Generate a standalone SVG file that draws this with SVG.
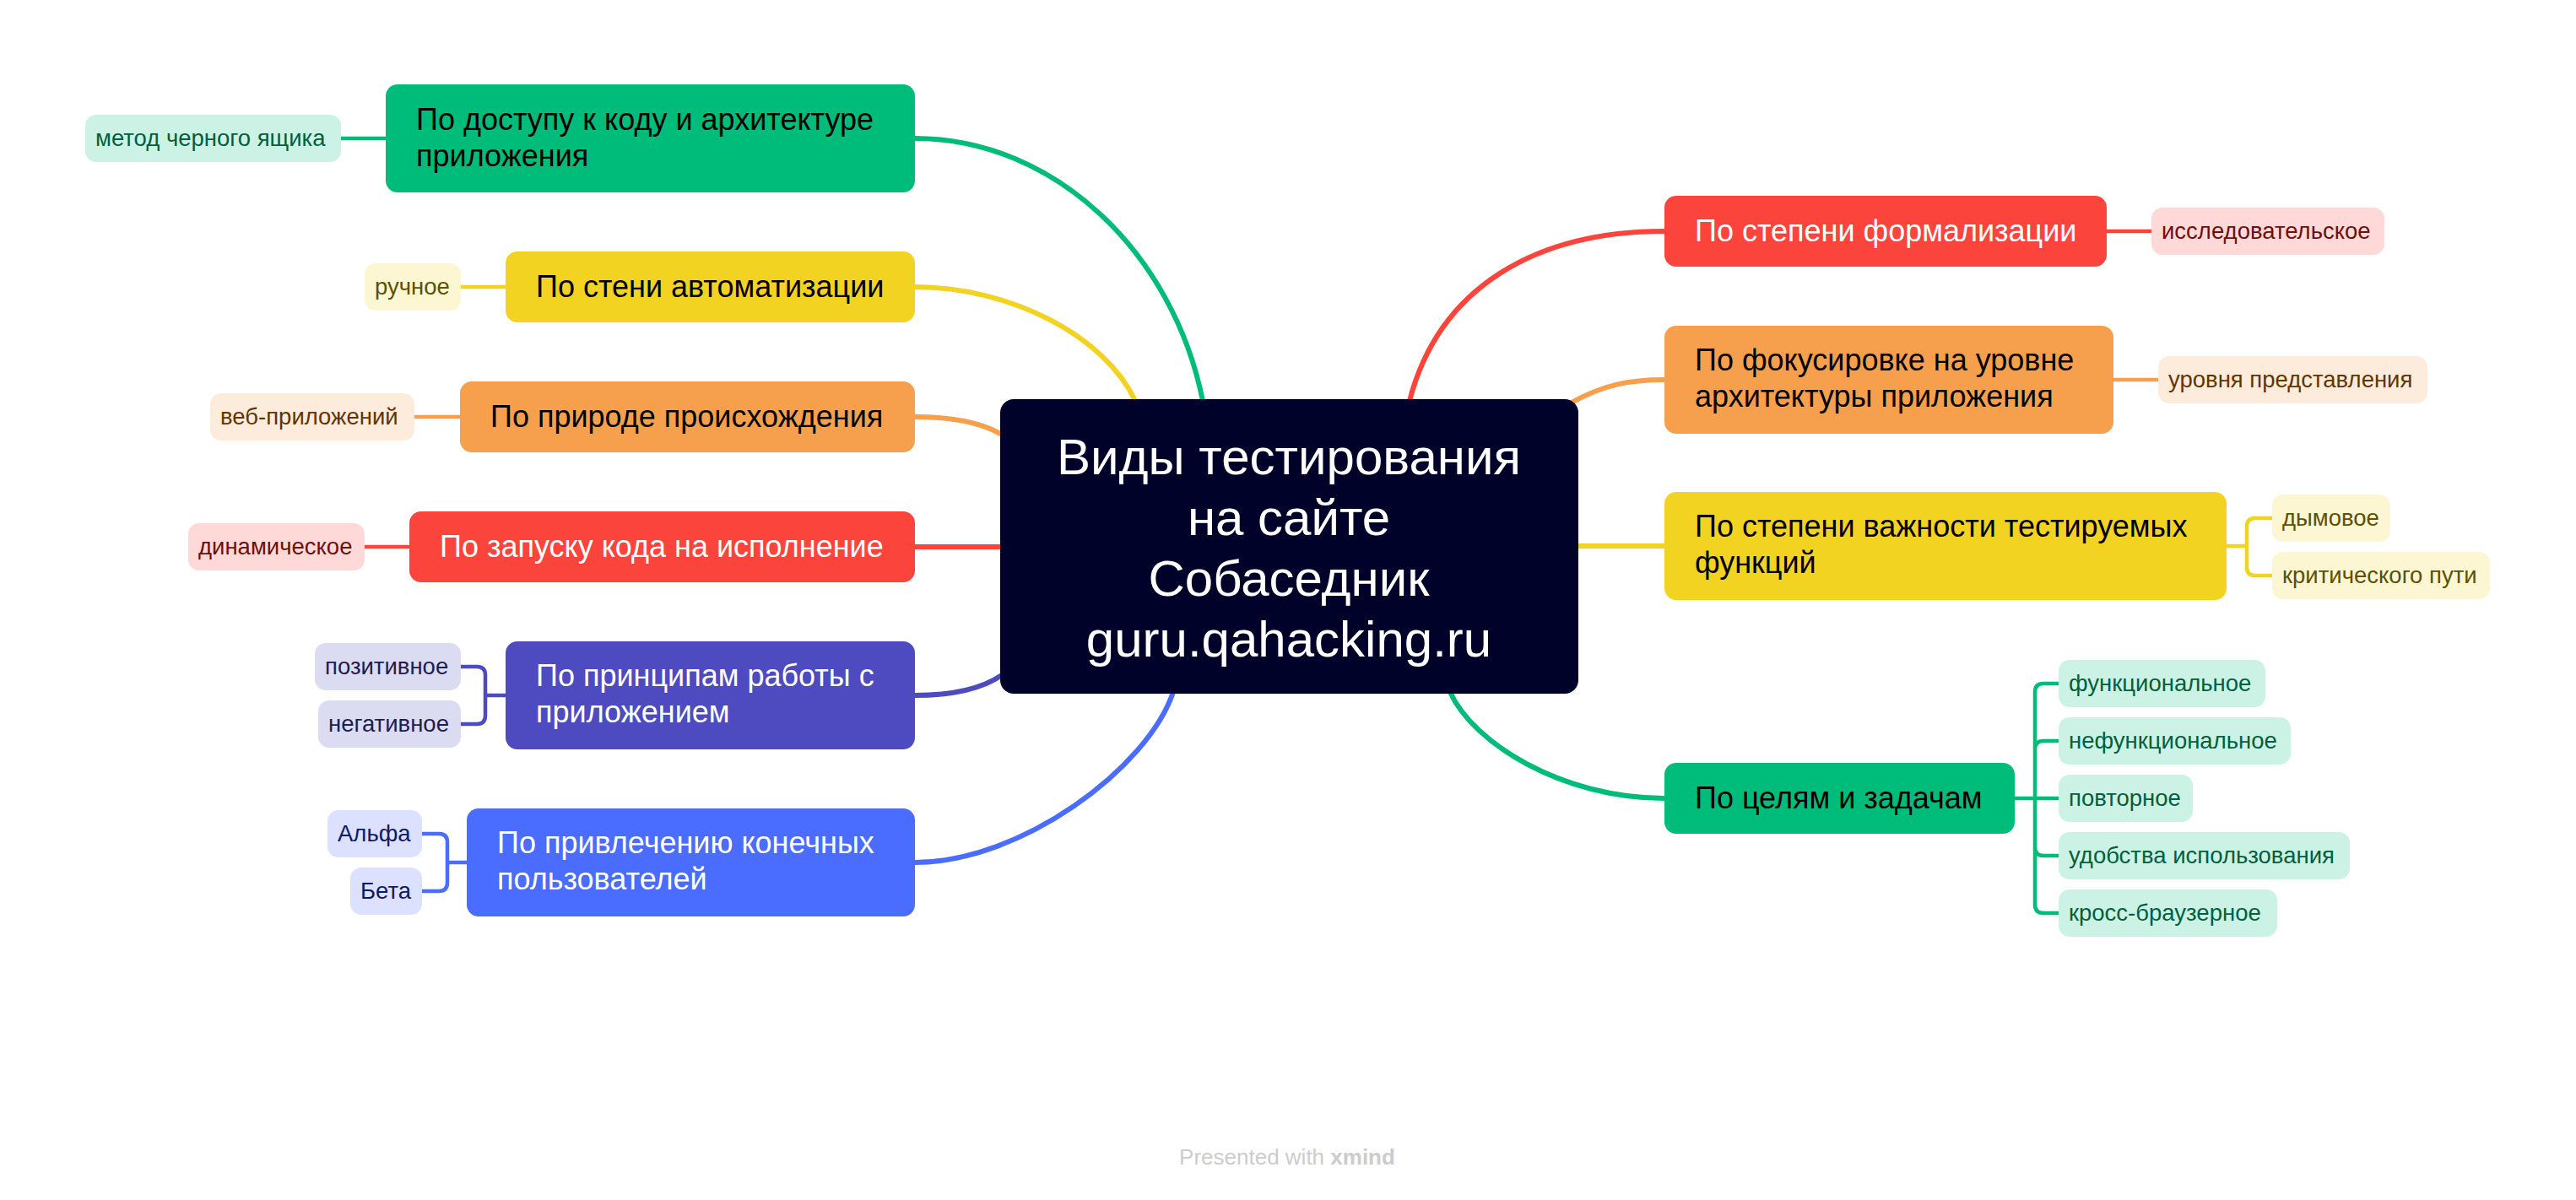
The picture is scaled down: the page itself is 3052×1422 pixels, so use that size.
<svg xmlns="http://www.w3.org/2000/svg" width="3052" height="1422" viewBox="0 0 3052 1422">
<style>
text{font-family:"Liberation Sans",Arial,sans-serif}
.t{font-size:36px}
.s{font-size:27.5px}
.c{font-size:60px;fill:#ffffff;text-anchor:middle}
.w{fill:#ffffff}
.k{fill:#000000}
.m{fill:none;stroke-width:6}
.b{fill:none;stroke-width:4.5}
.gs{stroke:#00BC7B}.ys{stroke:#F2D322}.os{stroke:#F6A04D}.rs{stroke:#FA443C}.ps{stroke:#4D4BBF}.bs{stroke:#4A6CFF}
.gp{fill:#CCF2E5}.yp{fill:#FCF6D3}.op{fill:#FDECDB}.rp{fill:#FED9D8}.pp{fill:#DBDBF2}.bp{fill:#DBE1FF}
.gt{fill:#005F3D}.yt{fill:#5E5000}.ot{fill:#623500}.rt{fill:#6E0F0B}.pt{fill:#1E1D4E}.bt{fill:#0E1A66}
</style>
<rect width="3052" height="1422" fill="#ffffff"/>
<g id="connectors">
<path class="m gs" d="M1084,164 C1250,164 1390,300 1425,475"/>
<path class="m ys" d="M1084,340 C1200,340 1310,400 1345,475"/>
<path class="m os" d="M1084,494 C1130,494 1165,502 1187,515"/>
<path class="m rs" d="M1084,648 H1187"/>
<path class="m ps" d="M1084,824 C1130,824 1165,815 1187,800"/>
<path class="m bs" d="M1084,1022 C1210,1022 1360,910 1390,820"/>
<path class="m rs" d="M1670,475 C1705,340 1820,274 1972,274"/>
<path class="m os" d="M1862,477 C1900,456 1930,450 1972,450"/>
<path class="m ys" d="M1868,647 H1972"/>
<path class="m gs" d="M1718,820 C1745,880 1850,946 1972,946"/>
<path class="b gs" d="M404,164 H457"/>
<path class="b ys" d="M546,340 H599"/>
<path class="b os" d="M491,494 H545"/>
<path class="b rs" d="M432,648 H485"/>
<path class="b ps" d="M599,824 H575 M575,824 V800 Q575,790 565,790 H546 M575,824 V848 Q575,858 565,858 H546"/>
<path class="b bs" d="M553,1022 H530 M530,1022 V998 Q530,988 520,988 H500 M530,1022 V1046 Q530,1056 520,1056 H500"/>
<path class="b rs" d="M2496,274 H2549"/>
<path class="b os" d="M2504,450 H2557"/>
<path class="b ys" d="M2638,647 H2662 M2662,647 V624 Q2662,614 2672,614 H2692 M2662,647 V672 Q2662,682 2672,682 H2692"/>
<path class="b gs" d="M2387,946 H2439 M2411,946 V820 Q2411,810 2421,810 H2439 M2411,946 V888 Q2411,878 2421,878 H2439 M2411,946 V1004 Q2411,1014 2421,1014 H2439 M2411,946 V1072 Q2411,1082 2421,1082 H2439"/>
</g>
<g id="central">
<rect x="1185" y="473" width="685" height="349" rx="16" fill="#000229"/>
<text class="c" x="1527" y="562">Виды тестирования</text>
<text class="c" x="1527" y="634">на сайте</text>
<text class="c" x="1527" y="706">Собаседник</text>
<text class="c" x="1527" y="778">guru.qahacking.ru</text>
</g>
<g id="topic-access">
<rect x="457" y="100" width="627" height="128" rx="14" fill="#00BC7B"/>
<text class="t k" x="493" y="154">По доступу к коду и архитектуре</text>
<text class="t k" x="493" y="197">приложения</text>
</g>
<g id="sub-blackbox">
<rect class="gp" x="101" y="136" width="303" height="56" rx="13"/>
<text class="s gt" x="113" y="173">метод черного ящика</text>
</g>
<g id="topic-automation">
<rect x="599" y="298" width="485" height="84" rx="14" fill="#F2D322"/>
<text class="t k" x="635" y="352">По стени автоматизации</text>
</g>
<g id="sub-manual">
<rect class="yp" x="432" y="312" width="114" height="56" rx="13"/>
<text class="s yt" x="444" y="349">ручное</text>
</g>
<g id="topic-origin">
<rect x="545" y="452" width="539" height="84" rx="14" fill="#F6A04D"/>
<text class="t k" x="581" y="506">По природе происхождения</text>
</g>
<g id="sub-web">
<rect class="op" x="249" y="466" width="242" height="56" rx="13"/>
<text class="s ot" x="261" y="503">веб-приложений</text>
</g>
<g id="topic-execution">
<rect x="485" y="606" width="599" height="84" rx="14" fill="#FA443C"/>
<text class="t w" x="521" y="660">По запуску кода на исполнение</text>
</g>
<g id="sub-dynamic">
<rect class="rp" x="223" y="620" width="209" height="56" rx="13"/>
<text class="s rt" x="235" y="657">динамическое</text>
</g>
<g id="topic-principles">
<rect x="599" y="760" width="485" height="128" rx="14" fill="#4D4BBF"/>
<text class="t w" x="635" y="813">По принципам работы с</text>
<text class="t w" x="635" y="856">приложением</text>
</g>
<g id="sub-positive">
<rect class="pp" x="373" y="762" width="173" height="56" rx="13"/>
<text class="s pt" x="385" y="799">позитивное</text>
</g>
<g id="sub-negative">
<rect class="pp" x="377" y="830" width="169" height="56" rx="13"/>
<text class="s pt" x="389" y="867">негативное</text>
</g>
<g id="topic-users">
<rect x="553" y="958" width="531" height="128" rx="14" fill="#4A6CFF"/>
<text class="t w" x="589" y="1011">По привлечению конечных</text>
<text class="t w" x="589" y="1054">пользователей</text>
</g>
<g id="sub-alpha">
<rect class="bp" x="388" y="960" width="112" height="56" rx="13"/>
<text class="s bt" x="400" y="997">Альфа</text>
</g>
<g id="sub-beta">
<rect class="bp" x="415" y="1028" width="85" height="56" rx="13"/>
<text class="s bt" x="427" y="1065">Бета</text>
</g>
<g id="topic-formalization">
<rect x="1972" y="232" width="524" height="84" rx="14" fill="#FA443C"/>
<text class="t w" x="2008" y="286">По степени формализации</text>
</g>
<g id="sub-exploratory">
<rect class="rp" x="2549" y="246" width="276" height="56" rx="13"/>
<text class="s rt" x="2561" y="283">исследовательское</text>
</g>
<g id="topic-focus">
<rect x="1972" y="386" width="532" height="128" rx="14" fill="#F6A04D"/>
<text class="t k" x="2008" y="439">По фокусировке на уровне</text>
<text class="t k" x="2008" y="482">архитектуры приложения</text>
</g>
<g id="sub-presentation">
<rect class="op" x="2557" y="422" width="319" height="56" rx="13"/>
<text class="s ot" x="2569" y="459">уровня представления</text>
</g>
<g id="topic-importance">
<rect x="1972" y="583" width="666" height="128" rx="14" fill="#F2D322"/>
<text class="t k" x="2008" y="636">По степени важности тестируемых</text>
<text class="t k" x="2008" y="679">функций</text>
</g>
<g id="sub-smoke">
<rect class="yp" x="2692" y="586" width="140" height="56" rx="13"/>
<text class="s yt" x="2704" y="623">дымовое</text>
</g>
<g id="sub-critical">
<rect class="yp" x="2692" y="654" width="258" height="56" rx="13"/>
<text class="s yt" x="2704" y="691">критического пути</text>
</g>
<g id="topic-goals">
<rect x="1972" y="904" width="415" height="84" rx="14" fill="#00BC7B"/>
<text class="t k" x="2008" y="958">По целям и задачам</text>
</g>
<g id="sub-functional">
<rect class="gp" x="2439" y="782" width="245" height="56" rx="13"/>
<text class="s gt" x="2451" y="819">функциональное</text>
</g>
<g id="sub-nonfunctional">
<rect class="gp" x="2439" y="850" width="275" height="56" rx="13"/>
<text class="s gt" x="2451" y="887">нефункциональное</text>
</g>
<g id="sub-regression">
<rect class="gp" x="2439" y="918" width="159" height="56" rx="13"/>
<text class="s gt" x="2451" y="955">повторное</text>
</g>
<g id="sub-usability">
<rect class="gp" x="2439" y="986" width="345" height="56" rx="13"/>
<text class="s gt" x="2451" y="1023">удобства использования</text>
</g>
<g id="sub-crossbrowser">
<rect class="gp" x="2439" y="1054" width="259" height="56" rx="13"/>
<text class="s gt" x="2451" y="1091">кросс-браузерное</text>
</g>
<g id="footer">
<text x="1525" y="1380" text-anchor="middle" font-size="26" fill="#CCCCCC">Presented with <tspan font-weight="bold">xmind</tspan></text>
</g>
</svg>
